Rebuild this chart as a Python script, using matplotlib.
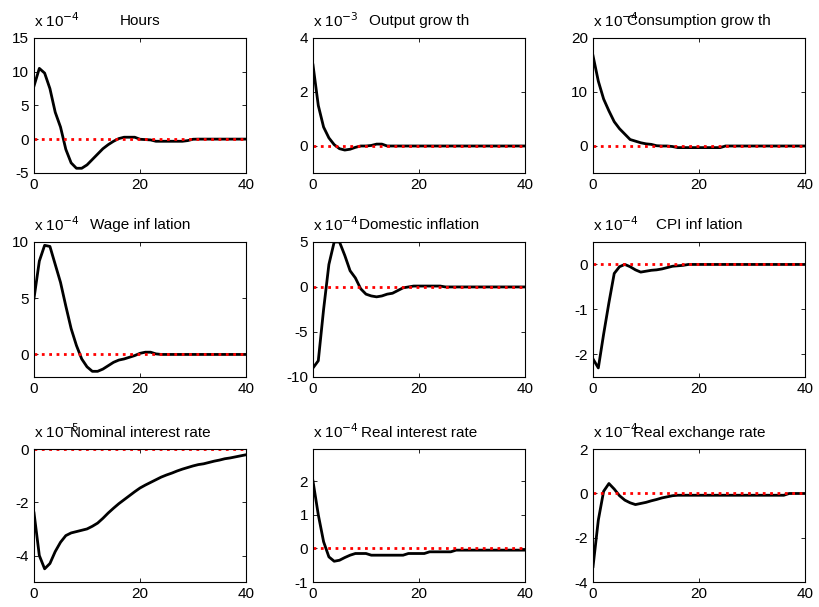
import matplotlib.pyplot as plt

plt.rcParams['font.family'] = ['Liberation Sans', 'DejaVu Sans']
plt.rcParams['font.size'] = 11
plt.rcParams['axes.unicode_minus'] = False

periods = list(range(41))

titles = ['Hours', 'Output grow th', 'Consumption grow th',
          'Wage inf lation', 'Domestic inflation', 'CPI inf lation',
          'Nominal interest rate', 'Real interest rate', 'Real exchange rate']
exponents = [-4, -3, -4, -4, -4, -4, -5, -4, -4]

hours = [7.9, 10.5, 9.8, 7.5, 4.0, 1.8, -1.5, -3.5, -4.3, -4.3, -3.8, -3.0, -2.2, -1.4,
         -0.8, -0.3, 0.1, 0.3, 0.3, 0.3, 0.0, -0.05, -0.1, -0.3, -0.3, -0.3, -0.3, -0.3,
         -0.3, -0.2, 0.0, 0.02, 0.02, 0.02, 0.02, 0.02, 0.02, 0.02, 0.02, 0.02, 0.02]
output_growth = [3.0, 1.5, 0.7, 0.3, 0.05, -0.1, -0.15, -0.12, -0.05, 0.0, 0.0, 0.02, 0.07,
                 0.07, 0.0, 0.0, 0.0, 0.0, 0.0, 0.0, 0.0, 0.0, 0.0, 0.0, 0.0, 0.0, 0.0, 0.0,
                 0.0, 0.0, 0.0, 0.0, 0.0, 0.0, 0.0, 0.0, 0.0, 0.0, 0.0, 0.0, 0.0]
cons_growth = [16.7, 12.0, 8.7, 6.5, 4.5, 3.2, 2.2, 1.2, 0.9, 0.6, 0.4, 0.3, 0.05, 0.0, 0.0,
               -0.1, -0.3, -0.3, -0.3, -0.3, -0.3, -0.3, -0.3, -0.3, -0.3, 0.0, 0.0, 0.0,
               0.0, 0.0, 0.0, 0.0, 0.0, 0.0, 0.0, 0.0, 0.0, 0.0, 0.0, 0.0, 0.0]
wage_infl = [5.0, 8.3, 9.7, 9.6, 8.0, 6.4, 4.3, 2.3, 0.8, -0.4, -1.1, -1.5, -1.5, -1.3, -1.0,
             -0.7, -0.5, -0.4, -0.25, -0.1, 0.1, 0.2, 0.2, 0.05, 0.0, 0.0, 0.0, 0.0, 0.0,
             0.0, 0.0, 0.0, 0.0, 0.0, 0.0, 0.0, 0.0, 0.0, 0.0, 0.0, 0.0]
dom_infl = [-9.0, -8.2, -2.5, 2.5, 5.0, 5.0, 3.5, 1.8, 1.0, -0.2, -0.8, -1.0, -1.1, -1.0,
            -0.8, -0.7, -0.4, -0.1, 0.0, 0.1, 0.1, 0.1, 0.1, 0.1, 0.1, 0.0, 0.0, 0.0, 0.0,
            0.0, 0.0, 0.0, 0.0, 0.0, 0.0, 0.0, 0.0, 0.0, 0.0, 0.0, 0.0]
cpi_infl = [-2.1, -2.3, -1.55, -0.85, -0.2, -0.05, 0.0, -0.05, -0.12, -0.17, -0.15, -0.13,
            -0.12, -0.1, -0.07, -0.04, -0.03, -0.02, 0.0, 0.0, 0.0, 0.0, 0.0, 0.0, 0.0, 0.0,
            0.0, 0.0, 0.0, 0.0, 0.0, 0.0, 0.0, 0.0, 0.0, 0.0, 0.0, 0.0, 0.0, 0.0, 0.0]
nom_rate = [-2.4, -4.0, -4.5, -4.3, -3.85, -3.5, -3.25, -3.15, -3.1, -3.05, -3.0, -2.9, -2.78,
            -2.6, -2.4, -2.22, -2.05, -1.9, -1.75, -1.6, -1.46, -1.35, -1.25, -1.15, -1.05,
            -0.97, -0.9, -0.82, -0.75, -0.69, -0.63, -0.58, -0.55, -0.5, -0.45, -0.41, -0.36,
            -0.33, -0.29, -0.25, -0.21]
real_rate = [2.0, 1.0, 0.2, -0.25, -0.38, -0.35, -0.27, -0.2, -0.15, -0.15, -0.15, -0.2, -0.2,
             -0.2, -0.2, -0.2, -0.2, -0.2, -0.15, -0.15, -0.15, -0.15, -0.1, -0.1, -0.1, -0.1,
             -0.1, -0.05, -0.05, -0.05, -0.05, -0.05, -0.05, -0.05, -0.05, -0.05, -0.05, -0.05,
             -0.05, -0.05, -0.05]
real_exch = [-3.3, -1.2, 0.1, 0.45, 0.2, -0.1, -0.3, -0.42, -0.5, -0.45, -0.4, -0.33, -0.27,
             -0.2, -0.15, -0.1, -0.08, -0.08, -0.08, -0.08, -0.08, -0.08, -0.08, -0.08, -0.08,
             -0.08, -0.08, -0.08, -0.08, -0.08, -0.08, -0.08, -0.08, -0.08, -0.08, -0.08, -0.08,
             0.0, 0.0, 0.0, 0.0]

series = [hours, output_growth, cons_growth, wage_infl, dom_infl, cpi_infl,
          nom_rate, real_rate, real_exch]
ylims = [(-5, 15), (-1, 4), (-5, 20), (-2, 10), (-10, 5), (-2.5, 0.5),
         (-5, 0), (-1, 2.95), (-4, 2)]
yticks = [[-5, 0, 5, 10, 15], [0, 2, 4], [0, 10, 20], [0, 5, 10], [-10, -5, 0, 5],
          [-2, -1, 0], [-4, -2, 0], [-1, 0, 1, 2], [-4, -2, 0, 2]]

fig = plt.figure(figsize=(8.2, 6.07), dpi=100)

lefts = [0.0415, 0.3817, 0.7232]
bottoms = [0.715, 0.379, 0.041]
heights = [0.2224, 0.2224, 0.219]

for i in range(9):
    r, c = divmod(i, 3)
    ax = fig.add_axes([lefts[c], bottoms[r], 0.2585, heights[r]])
    ax.plot(periods, series[i], color='black', linewidth=2)
    ax.plot(periods, [0] * len(periods), color='red', linestyle=':', linewidth=2)
    ax.set_xlim(0, 40)
    ax.set_ylim(*ylims[i])
    ax.set_xticks([0, 20, 40])
    ax.set_yticks(yticks[i])
    ax.tick_params(direction='in', top=True, right=True, length=3, width=0.6, labelsize=11)
    for s in ax.spines.values():
        s.set_linewidth(0.8)
    ax.set_title(titles[i], fontsize=11, pad=9)
    # множитель оси Y, как в MATLAB
    ax.annotate('x 10$^{%d}$' % exponents[i], xy=(0, 1), xycoords='axes fraction',
                xytext=(0, 8), textcoords='offset points', ha='left', va='baseline',
                fontsize=11)

plt.savefig('out.png', dpi=100)
